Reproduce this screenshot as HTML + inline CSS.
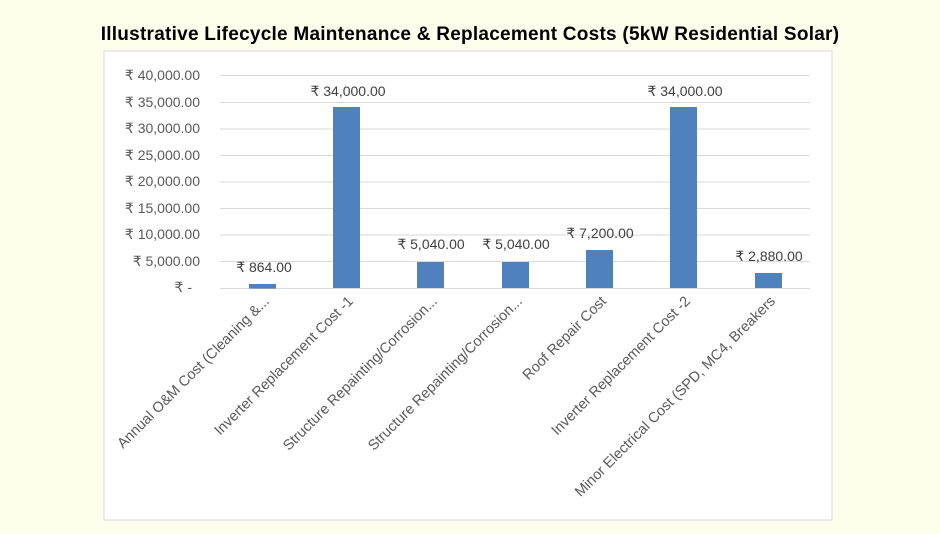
<!DOCTYPE html>
<html><head><style>
body{margin:0;width:940px;height:529px;background:#FFFDEB;overflow:hidden;font-family:"Liberation Sans",sans-serif}
</style></head><body>
<svg width="940" height="529" xmlns="http://www.w3.org/2000/svg">
<rect x="0" y="0" width="940" height="529" fill="#FFFDEB"/>
<text x="470" y="40" text-anchor="middle" font-family="Liberation Sans, sans-serif" font-weight="bold" font-size="19" letter-spacing="0.25" fill="#000">Illustrative Lifecycle Maintenance &amp; Replacement Costs (5kW Residential Solar)</text>
<rect x="104" y="51" width="728" height="469" fill="#fff" stroke="#d9d9d9"/>
<g stroke="#d9d9d9" stroke-width="1">
<line x1="220" x2="810" y1="75.5" y2="75.5"/><line x1="220" x2="810" y1="102.5" y2="102.5"/>
<line x1="220" x2="810" y1="129" y2="129"/><line x1="220" x2="810" y1="155.5" y2="155.5"/>
<line x1="220" x2="810" y1="182" y2="182"/><line x1="220" x2="810" y1="208.5" y2="208.5"/>
<line x1="220" x2="810" y1="235" y2="235"/><line x1="220" x2="810" y1="261.5" y2="261.5"/>
<line x1="220" x2="810" y1="288.5" y2="288.5"/>
</g>
<g font-family="Liberation Sans, sans-serif" font-size="14" fill="#595959" text-anchor="end">
<text x="200" y="80">₹ 40,000.00</text><text x="200" y="107">₹ 35,000.00</text>
<text x="200" y="133">₹ 30,000.00</text><text x="200" y="160">₹ 25,000.00</text>
<text x="200" y="186">₹ 20,000.00</text><text x="200" y="213">₹ 15,000.00</text>
<text x="200" y="239">₹ 10,000.00</text><text x="200" y="266">₹ 5,000.00</text>
<text x="192" y="292">₹ -</text>
</g>
<g fill="#4F81BD">
<rect x="249" y="284" width="27" height="4.6"/>
<rect x="333" y="107" width="27" height="181"/>
<rect x="417" y="262" width="27" height="26"/>
<rect x="502" y="262" width="27" height="26"/>
<rect x="586" y="250" width="27" height="38"/>
<rect x="670" y="107" width="27" height="181"/>
<rect x="755" y="273" width="27" height="15"/>
</g>
<g font-family="Liberation Sans, sans-serif" font-size="14" fill="#404040" text-anchor="middle">
<text x="264" y="272">₹ 864.00</text>
<text x="348" y="96">₹ 34,000.00</text>
<text x="431" y="249">₹ 5,040.00</text>
<text x="516" y="249">₹ 5,040.00</text>
<text x="600" y="238">₹ 7,200.00</text>
<text x="685" y="96">₹ 34,000.00</text>
<text x="769" y="261">₹ 2,880.00</text>
</g>
<g font-family="Liberation Sans, sans-serif" font-size="14.5" fill="#595959" text-anchor="end">
<text transform="translate(270,302) rotate(-45)">Annual O&amp;M Cost (Cleaning &amp;...</text>
<text transform="translate(354,302) rotate(-45)">Inverter Replacement Cost -1</text>
<text transform="translate(438,302) rotate(-45)">Structure Repainting/Corrosion...</text>
<text transform="translate(523,302) rotate(-45)">Structure Repainting/Corrosion...</text>
<text transform="translate(607,302) rotate(-45)">Roof Repair Cost</text>
<text transform="translate(691,302) rotate(-45)">Inverter Replacement Cost -2</text>
<text transform="translate(776,302) rotate(-45)">Minor Electrical Cost (SPD, MC4, Breakers</text>
</g>
</svg>
</body></html>
